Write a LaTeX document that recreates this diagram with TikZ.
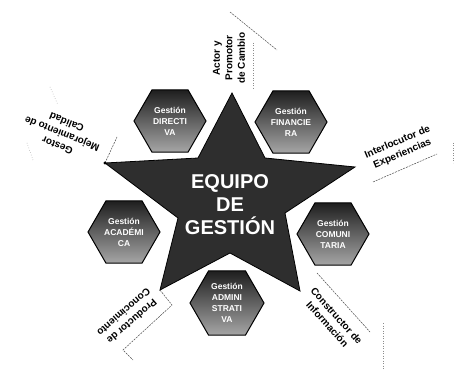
\documentclass[tikz,border=0pt]{standalone}
\usepackage{fontspec}
\setmainfont{Liberation Sans}
\usetikzlibrary{shapes.geometric}
\begin{document}
\begin{tikzpicture}[x=1pt,y=-1pt,
  hexa/.style={regular polygon, regular polygon sides=6, minimum size=72pt, inner sep=0pt,
    draw=black, line width=1pt, top color=black!88, bottom color=black!35,
    text=white, font=\bfseries\fontsize{8.5}{11}\selectfont, align=center},
  lbl/.style={font=\bfseries\fontsize{10}{12.5}\selectfont, align=center, inner sep=1pt},
  lead/.style={draw=black!70, line width=0.5pt, dash pattern=on 2pt off 1pt},
  faint/.style={draw=black!45, line width=0.5pt, dotted},
  startext/.style={text=white, font=\bfseries\fontsize{20}{23}\selectfont, align=center}]
\useasboundingbox (0,0) rectangle (457,371);
\fill[white] (0,0) rectangle (457,371);
% star
\coordinate (t) at (232,93);
\coordinate (i1) at (265,158);
\coordinate (r) at (355,167);
\coordinate (i2) at (285,213);
\coordinate (br) at (300,291);
\coordinate (i3) at (230,253);
\coordinate (bl) at (160,290);
\coordinate (i4) at (178,218);
\coordinate (l) at (105,163);
\coordinate (i5) at (198,158);
\draw[fill=black!82, draw=black, line width=0.8pt, line join=miter]
  (t) -- (i1) -- (r) -- (i2) -- (br) -- (i3) -- (bl) -- (i4) -- (l) -- (i5) -- cycle;
\node[startext] (eq) at (230,205) {EQUIPO\\DE\\GESTIÓN};
% hexagons
\node[hexa] (hul) at (170,121) {Gestión\\DIRECTI\\VA};
\node[hexa] (hur) at (291,122) {Gestión\\FINANCIE\\RA};
\node[hexa] (hr) at (333,234) {Gestión\\COMUNI\\TARIA};
\node[hexa, minimum size=74pt] (hb) at (227,303) {Gestión\\ADMINI\\STRATI\\VA};
\node[hexa] (hl) at (124,232) {Gestión\\ACADÉMI\\CA};
% labels
\node[lbl, rotate=90] (actor) at (229,58) {Actor y\\Promotor\\de Cambio};
\node[lbl, rotate=158] (gestor) at (62,134) {Gestor\\Mejoramiento de\\Calidad};
\node[lbl, rotate=23] (inter) at (400,148) {Interlocutor de\\Experiencias};
\node[lbl, rotate=-48] (constr) at (332,320) {Constructor de\\Información};
\node[lbl, rotate=221] (prod) at (128,317) {Productor de\\Conocimiento};
% leader lines
\coordinate (a1) at (230,12); \coordinate (a2) at (277,50);
\coordinate (a3) at (253,43); \coordinate (a4) at (253,90);
\draw[lead] (a1) -- (a2);
\draw[faint] (a3) -- (a4);
\coordinate (g1) at (117,137); \coordinate (g2) at (27,143); \coordinate (g3) at (33,160);
\coordinate (g4) at (50,87); \coordinate (g5) at (58,105);
\draw[lead] (l) -- (g1);
\fill (l) circle (1.6pt);
\draw[faint] (g2) -- (g3);
\draw[faint] (g4) -- (g5);
\coordinate (n1) at (373,182); \coordinate (n2) at (437,154);
\coordinate (n3) at (453,143); \coordinate (n4) at (453,163);
\draw[lead] (n1) -- (n2);
\draw[faint] (n3) -- (n4);
\coordinate (c1) at (317,273); \coordinate (c2) at (370,332);
\coordinate (c3) at (383,323); \coordinate (c4) at (383,370);
\draw[lead] (c1) -- (c2);
\draw[faint] (c3) -- (c4);
\coordinate (p1) at (172,305); \coordinate (p2) at (123,350); \coordinate (p3) at (133,360);
\draw[lead] (bl) -- (p1) -- (p2) -- (p3);
\end{tikzpicture}
\end{document}
